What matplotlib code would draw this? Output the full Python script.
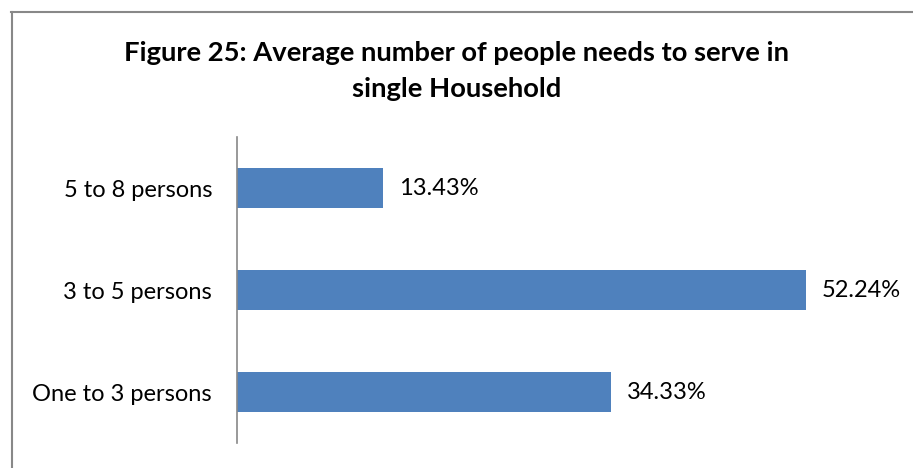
import matplotlib.pyplot as plt
from matplotlib.lines import Line2D

categories = ['One to 3 persons', '3 to 5 persons', '5 to 8 persons']
shares = [34.33, 52.24, 13.43]
title = 'Figure 25: Average number of people needs to serve in\nsingle Household'

plt.rcParams['font.family'] = ['Lato', 'DejaVu Sans']

fig = plt.figure(figsize=(9.13, 4.68), dpi=100)
ax = fig.add_axes([0.2596, 0.0534, 0.7152, 0.6538])

ypos = list(range(len(categories)))
ax.barh(ypos, shares, height=0.4, color='#4f81bd')
for y, v in zip(ypos, shares):
    ax.text(v + 1.5, y, f'{v:.2f}%', va='center', ha='left', fontsize=17)

ax.set_xlim(0, 60)
ax.set_ylim(-0.5, 2.5)
ax.set_yticks(ypos)
ax.set_yticklabels(categories, fontsize=17)
ax.tick_params(axis='y', length=0, pad=18)
ax.set_xticks([])
for side in ['top', 'right', 'bottom']:
    ax.spines[side].set_visible(False)
ax.spines['left'].set_color('#888888')
ax.spines['left'].set_linewidth(1.2)

fig.text(0.5, 0.912, title, ha='center', va='top', fontsize=19.7,
         fontweight='bold', linespacing=1.57)

# chart area frame (left and top edges)
fig.add_artist(Line2D([11.5 / 913, 11.5 / 913], [0, 1 - 11.5 / 468],
                      transform=fig.transFigure, color='#888888', lw=1.5))
fig.add_artist(Line2D([11 / 913, 1], [1 - 11.5 / 468, 1 - 11.5 / 468],
                      transform=fig.transFigure, color='#888888', lw=1.5))

fig.savefig('out.png', dpi=100)
